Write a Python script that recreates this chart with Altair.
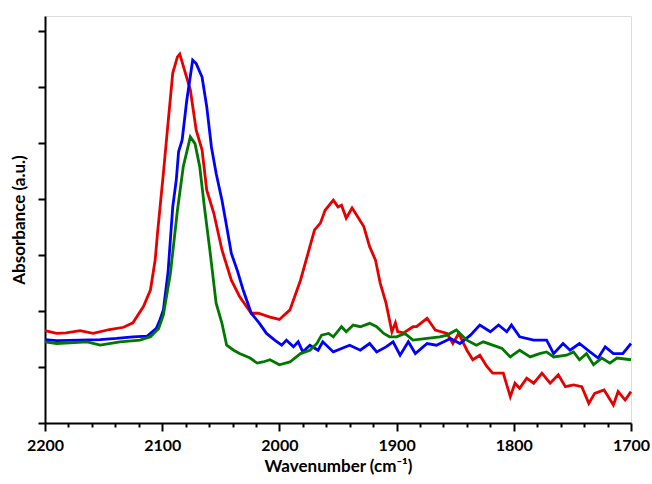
import altair as alt
import pandas as pd

# Red spectrum
red_wn = [2200, 2190, 2182, 2170, 2159, 2145, 2133, 2125, 2116, 2110, 2106, 2104, 2099, 2095, 2091, 2087, 2085,
          2076, 2071, 2066, 2062, 2056, 2049, 2041, 2034, 2024, 2018, 2008, 2000, 1991, 1982, 1974, 1970, 1965,
          1961, 1954, 1950, 1947, 1943, 1938, 1934, 1928, 1923, 1918, 1914, 1909, 1904, 1901, 1899, 1894, 1886,
          1883, 1874, 1867, 1857, 1852, 1847, 1840, 1835, 1829, 1823, 1818, 1809, 1803, 1799, 1795, 1789, 1783,
          1776, 1769, 1762, 1756, 1749, 1742, 1736, 1731, 1723, 1715, 1711, 1705, 1700]
red_abs = [1.65, 1.60, 1.61, 1.65, 1.60, 1.67, 1.71, 1.79, 2.08, 2.38, 2.91, 3.39, 4.46, 5.36, 6.25, 6.54, 6.59,
           5.95, 5.23, 4.88, 4.16, 3.75, 3.09, 2.55, 2.26, 1.96, 1.96, 1.89, 1.85, 2.02, 2.55, 3.15, 3.45, 3.57,
           3.80, 3.98, 3.86, 3.89, 3.66, 3.84, 3.71, 3.51, 3.15, 2.91, 2.50, 2.14, 1.63, 1.79, 1.63, 1.61, 1.72,
           1.72, 1.87, 1.66, 1.60, 1.42, 1.60, 1.30, 1.13, 1.21, 1.01, 0.89, 0.89, 0.47, 0.71, 0.62, 0.80, 0.71,
           0.89, 0.71, 0.86, 0.65, 0.68, 0.65, 0.35, 0.53, 0.59, 0.32, 0.56, 0.41, 0.56]

# Blue spectrum
blue_wn = [2200, 2190, 2170, 2153, 2139, 2125, 2113, 2105, 2102, 2099, 2095, 2091, 2088, 2086, 2083, 2079, 2074,
           2071, 2066, 2062, 2058, 2054, 2049, 2045, 2041, 2036, 2031, 2024, 2017, 2011, 2004, 1998, 1994, 1988,
           1984, 1980, 1974, 1967, 1963, 1954, 1947, 1940, 1931, 1923, 1917, 1909, 1903, 1897, 1890, 1884, 1874,
           1866, 1854, 1846, 1837, 1829, 1820, 1813, 1806, 1802, 1795, 1783, 1772, 1766, 1758, 1752, 1744, 1735,
           1728, 1722, 1715, 1707, 1700]
blue_abs = [1.49, 1.47, 1.48, 1.49, 1.51, 1.54, 1.55, 1.69, 1.84, 2.02, 2.70, 3.86, 4.34, 4.85, 5.05, 5.77, 6.48,
            6.42, 6.18, 5.65, 4.93, 4.46, 3.98, 3.51, 3.03, 2.73, 2.38, 1.96, 1.78, 1.60, 1.48, 1.39, 1.48, 1.36,
            1.45, 1.27, 1.39, 1.30, 1.45, 1.27, 1.33, 1.39, 1.30, 1.42, 1.27, 1.36, 1.45, 1.21, 1.45, 1.24, 1.42,
            1.39, 1.51, 1.42, 1.57, 1.75, 1.63, 1.75, 1.63, 1.75, 1.54, 1.48, 1.48, 1.24, 1.42, 1.30, 1.42, 1.27,
            1.16, 1.36, 1.24, 1.24, 1.42]

# Green spectrum
green_wn = [2200, 2190, 2164, 2153, 2136, 2119, 2110, 2103, 2099, 2093, 2087, 2082, 2076, 2072, 2068, 2064, 2059,
            2054, 2049, 2045, 2039, 2034, 2025, 2019, 2014, 2008, 2000, 1991, 1982, 1974, 1968, 1964, 1958, 1954,
            1947, 1943, 1937, 1931, 1923, 1917, 1911, 1906, 1900, 1893, 1886, 1874, 1863, 1857, 1849, 1840, 1832,
            1826, 1818, 1810, 1803, 1795, 1786, 1778, 1772, 1766, 1755, 1749, 1744, 1738, 1732, 1725, 1718, 1712,
            1700]
green_abs = [1.45, 1.42, 1.45, 1.39, 1.45, 1.48, 1.54, 1.69, 1.93, 2.67, 3.80, 4.58, 5.11, 4.99, 4.58, 3.86, 3.03,
             2.14, 1.78, 1.39, 1.30, 1.24, 1.16, 1.07, 1.09, 1.13, 1.04, 1.09, 1.24, 1.30, 1.42, 1.57, 1.60, 1.54,
             1.72, 1.63, 1.75, 1.72, 1.78, 1.72, 1.60, 1.54, 1.54, 1.60, 1.48, 1.51, 1.54, 1.57, 1.66, 1.48, 1.39,
             1.45, 1.39, 1.33, 1.18, 1.30, 1.18, 1.24, 1.27, 1.18, 1.21, 1.27, 1.13, 1.24, 1.04, 1.16, 1.07, 1.16,
             1.13]

series_names = ["red", "blue", "green"]
series_colors = ["#e60000", "#0000ff", "#007800"]

rows = []
for name, wn, ab in [("red", red_wn, red_abs), ("blue", blue_wn, blue_abs), ("green", green_wn, green_abs)]:
    for w, a in zip(wn, ab):
        rows.append({"wn": w, "abs": a, "series": name})
df = pd.DataFrame(rows)

x_ticks = list(range(1700, 2201, 20))
y_ticks = [0, 1, 2, 3, 4, 5, 6, 7]
FONT = "Lato"

chart = alt.Chart(df).mark_line(strokeWidth=2.8).encode(
    x=alt.X("wn:Q",
            scale=alt.Scale(domain=[1700, 2200], reverse=True, nice=False, zero=False),
            axis=alt.Axis(title="Wavenumber (cm⁻¹)", values=x_ticks,
                          labelExpr="datum.value % 100 === 0 ? datum.label : ''",
                          tickSize={"condition": {"test": "datum.value % 100 === 0", "value": 8}, "value": 4},
                          format="d", labelFlush=False, labelOverlap=False, grid=False,
                          labelFont=FONT, labelFontSize=16, labelFontWeight="bold", labelColor="black",
                          labelPadding=6,
                          titleFont=FONT, titleFontSize=17, titleFontWeight="bold", titleColor="black",
                          titlePadding=5,
                          domainColor="black", domainWidth=2, tickColor="black", tickWidth=2)),
    y=alt.Y("abs:Q",
            scale=alt.Scale(domain=[0, 7.27], nice=False, zero=False),
            axis=alt.Axis(title="Absorbance (a.u.)", values=y_ticks, labels=False, grid=False,
                          tickSize=7, tickColor="black", tickWidth=2,
                          domainColor="black", domainWidth=2,
                          titleFont=FONT, titleFontSize=17, titleFontWeight="bold", titleColor="black",
                          titlePadding=9)),
    color=alt.Color("series:N", scale=alt.Scale(domain=series_names, range=series_colors), legend=None),
).properties(
    width=586, height=407,
    autosize=alt.AutoSizeParams(type="none"),
    padding={"left": 45, "top": 16, "right": 21, "bottom": 61},
).configure_view(
    fill="#f2f2f2", stroke="black", strokeWidth=2
).configure(background="white")

chart.save("out.html", embed_options={"renderer": "svg", "actions": False})
